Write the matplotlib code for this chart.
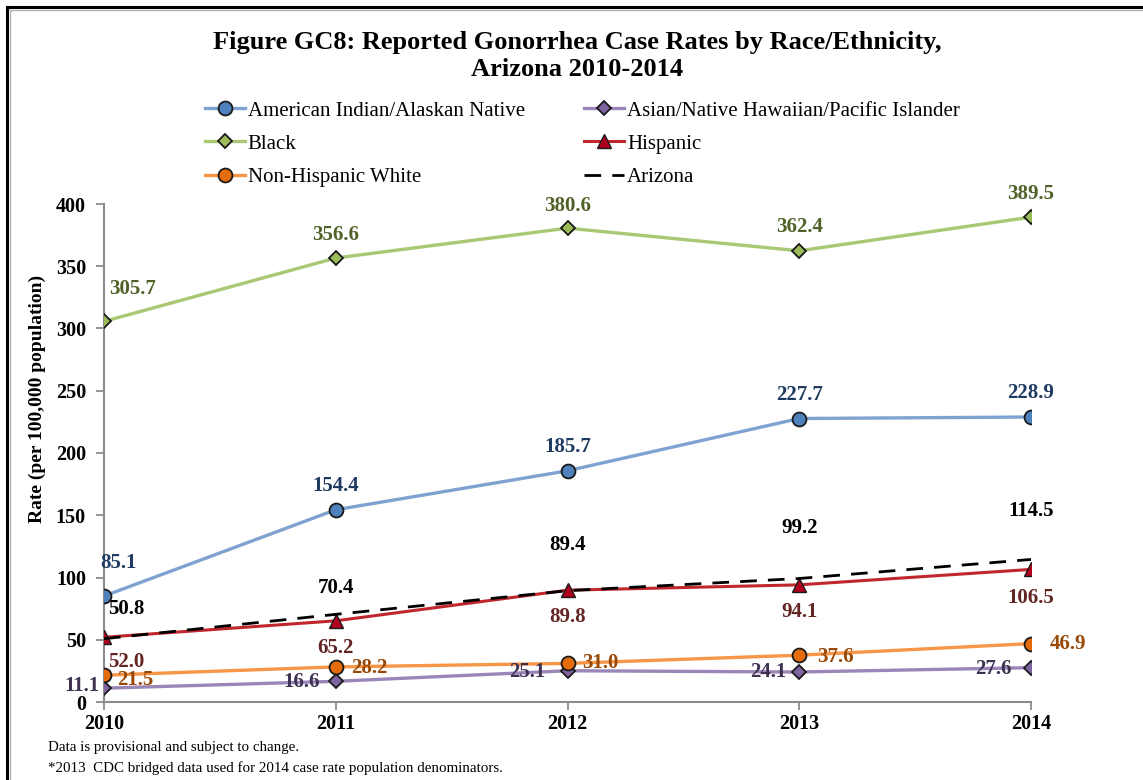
import matplotlib
matplotlib.use("Agg")
import matplotlib.pyplot as plt
from matplotlib.lines import Line2D

plt.rcParams['font.family'] = ['Liberation Serif', 'DejaVu Serif']

years = [2010, 2011, 2012, 2013, 2014]
ai_an = [85.1, 154.4, 185.7, 227.7, 228.9]
asian = [11.1, 16.6, 25.1, 24.1, 27.6]
black = [305.7, 356.6, 380.6, 362.4, 389.5]
hispanic = [52.0, 65.2, 89.8, 94.1, 106.5]
nh_white = [21.5, 28.2, 31.0, 37.6, 46.9]
arizona = [50.8, 70.4, 89.4, 99.2, 114.5]

series_names = ["American Indian/Alaskan Native", "Asian/Native Hawaiian/Pacific Islander",
                "Black", "Hispanic", "Non-Hispanic White", "Arizona"]
y_ticks = [0, 50, 100, 150, 200, 250, 300, 350, 400]

W, H = 1143, 780
fig = plt.figure(figsize=(W / 100, H / 100), dpi=100)
ax = fig.add_axes([104 / W, 1 - 702 / H, (1031 - 104) / W, (702 - 204) / H])

mk_edge = '#1a1a1a'
l_ai, = ax.plot(years, ai_an, color='#7FA3D1', lw=2.4, marker='o', ms=10,
                mfc='#4F81BD', mec=mk_edge, mew=1.3, zorder=3)
l_as, = ax.plot(years, asian, color='#9A86B8', lw=2.4, marker='D', ms=7.5,
                mfc='#8064A2', mec=mk_edge, mew=1.3, zorder=3)
l_bl, = ax.plot(years, black, color='#A9C874', lw=2.4, marker='D', ms=7.5,
                mfc='#9BBB59', mec=mk_edge, mew=1.3, zorder=3)
l_hi, = ax.plot(years, hispanic, color='#C0272D', lw=2.2, marker='^', ms=10,
                mfc='#B0001E', mec=mk_edge, mew=1.0, zorder=3)
l_nw, = ax.plot(years, nh_white, color='#F79646', lw=2.4, marker='o', ms=10,
                mfc='#E46C0A', mec=mk_edge, mew=1.3, zorder=3)
l_az, = ax.plot(years, arizona, color='black', lw=2.0, dashes=(6, 4), zorder=4)

ax.set_xlim(2010, 2014)
ax.set_ylim(0, 400)
ax.set_xticks(years)
ax.set_yticks(y_ticks)
ax.set_xticklabels([str(y) for y in years], fontsize=14.5, fontweight='bold')
ax.set_yticklabels([str(v) for v in y_ticks], fontsize=14.5, fontweight='bold')
for s in ['top', 'right']:
    ax.spines[s].set_visible(False)
for s in ['left', 'bottom']:
    ax.spines[s].set_color('#8C8C8C')
    ax.spines[s].set_linewidth(1.5)
ax.tick_params(axis='both', direction='out', length=5.5, width=1.3, color='#8C8C8C')
ax.tick_params(axis='x', pad=3)
ax.tick_params(axis='y', pad=7.5)
for lab in ax.get_xticklabels() + ax.get_yticklabels():
    lab.set_clip_on(False)

# Data labels: offsets in pixels
label_fs = 15
def put_labels(vals, color, offsets):
    for x, v, (dx, dy) in zip(years, vals, offsets):
        ax.annotate(f"{v:.1f}", (x, v), xytext=(dx, dy), textcoords='offset pixels',
                    ha='center', va='center', fontsize=label_fs, fontweight='bold',
                    color=color, zorder=6, annotation_clip=False)

put_labels(black, '#4F6228', [(29, 32), (0, 23), (0, 22), (0, 24), (0, 23)])
put_labels(ai_an, '#1F3A60', [(14, 33), (0, 24), (0, 24), (0, 24), (0, 24)])
put_labels(arizona, 'black', [(22, 30), (0, 26), (0, 46), (0, 50), (0, 48)])
put_labels(hispanic, '#632523', [(22, -25), (0, -27), (0, -27), (0, -27), (0, -29)])
put_labels(nh_white, '#984807', [(31, -5), (34, -1), (33, 0), (36, -2), (37, 0)])
put_labels(asian, '#3F3151', [(-22, 2), (-34, -1), (-40, -1), (-31, 0), (-38, -1)])

# Title
fig.text(577 / W, 1 - 42 / H, "Figure GC8: Reported Gonorrhea Case Rates by Race/Ethnicity,",
         ha='center', va='center', fontsize=19, fontweight='bold')
fig.text(577 / W, 1 - 70 / H, "Arizona 2010-2014",
         ha='center', va='center', fontsize=19, fontweight='bold')

# Y label
fig.text(37 / W, 1 - 399 / H, "Rate (per 100,000 population)", rotation=90,
         ha='center', va='center', fontsize=14, fontweight='bold')

# Legend (row-major order via column-first fill)
handles = [l_ai, l_bl, l_nw, l_as, l_hi, l_az]
labels = [series_names[0], series_names[2], series_names[4],
          series_names[1], series_names[3], series_names[5]]
leg = fig.legend(handles, labels, ncol=2, loc='upper left',
                 bbox_to_anchor=(205 / W, 1 - 101 / H), frameon=False,
                 fontsize=15, handlelength=1.9, handletextpad=0.15,
                 columnspacing=2.85, labelspacing=0.65, borderpad=0, borderaxespad=0)

# Footnotes
fig.text(48 / W, 1 - 748 / H, "Data is provisional and subject to change.",
         ha='left', va='center', fontsize=10.8)
fig.text(48 / W, 1 - 768 / H, "*2013  CDC bridged data used for 2014 case rate population denominators.",
         ha='left', va='center', fontsize=10.8)

# Outer frame (top and left edges visible)
fig.add_artist(Line2D([7 / W, 1], [1 - 7 / H, 1 - 7 / H], color='black', lw=2.2,
                      transform=fig.transFigure))
fig.add_artist(Line2D([7 / W, 7 / W], [0, 1 - 7 / H], color='black', lw=2.2,
                      transform=fig.transFigure))
fig.add_artist(Line2D([9.5 / W, 1], [1 - 9.5 / H, 1 - 9.5 / H], color='#B0B0B0', lw=1.0,
                      transform=fig.transFigure))
fig.add_artist(Line2D([9.5 / W, 9.5 / W], [0, 1 - 9.5 / H], color='#B0B0B0', lw=1.0,
                      transform=fig.transFigure))

fig.savefig("out.png", dpi=100)
